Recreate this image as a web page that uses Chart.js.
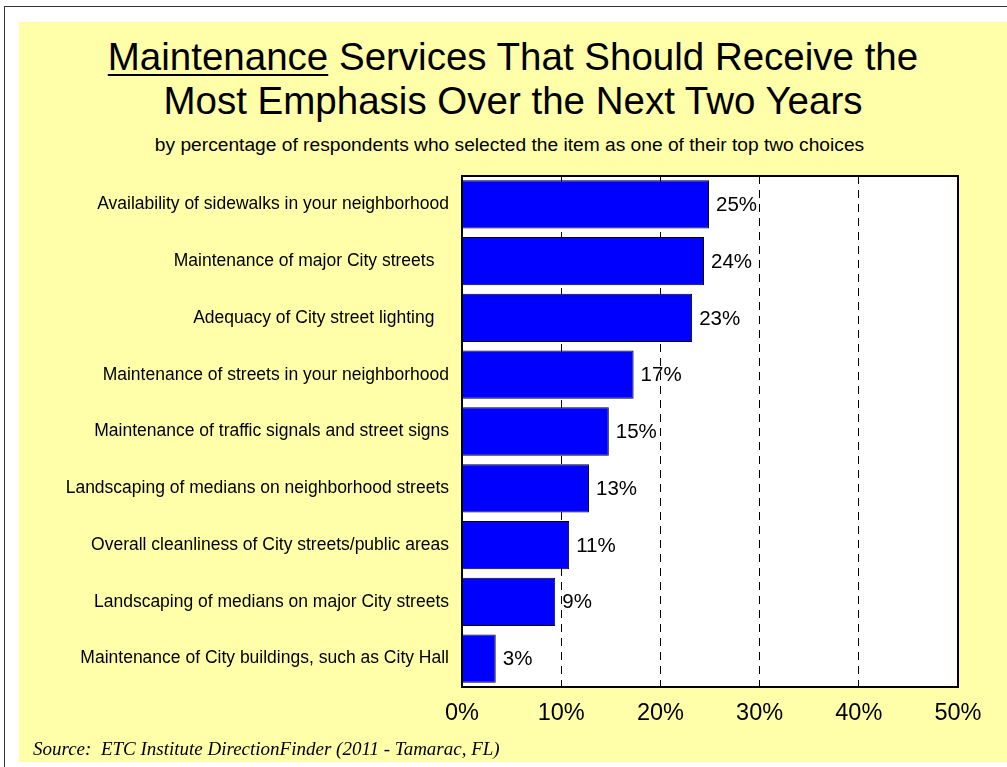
<!DOCTYPE html>
<html>
<head>
<meta charset="utf-8">
<script src="https://cdn.jsdelivr.net/npm/chart.js@4"></script>
<style>
  html,body{margin:0;padding:0;background:#fff;}
  #page{position:relative;width:1007px;height:767px;overflow:hidden;font-family:"Liberation Sans",Arial,sans-serif;}
  #frameTop{position:absolute;left:4px;top:6px;width:1003px;height:1px;background:#333;}
  #frameLeft{position:absolute;left:4px;top:6px;width:1px;height:761px;background:#333;}
  #panel{position:absolute;left:19px;top:22px;width:988px;height:740px;background:#FFFFAA;}
  #title{position:absolute;left:19px;width:988px;top:35px;text-align:center;font-size:38.5px;line-height:44px;color:#000;}
  #title u{text-decoration-thickness:2px;text-underline-offset:4px;}
  #subtitle{position:absolute;left:0;width:1019px;top:134px;text-align:center;font-size:19.2px;line-height:21px;color:#000;}
  #source{position:absolute;left:33px;top:739px;font-family:"Liberation Serif","Times New Roman",serif;font-style:italic;font-size:19px;line-height:20px;color:#000;}
  canvas{position:absolute;left:0;top:0;}
</style>
</head>
<body>
<div id="page">
  <div id="frameTop"></div>
  <div id="frameLeft"></div>
  <div id="panel"></div>
  <div id="title"><u>Maintenance</u> Services That Should Receive the<br>Most Emphasis Over the Next Two Years</div>
  <div id="subtitle">by percentage of respondents who selected the item as one of their top two choices</div>
  <canvas id="chart" width="1007" height="767"></canvas>
  <div id="source">Source:&nbsp; ETC Institute DirectionFinder (2011 - Tamarac, FL)</div>
</div>
<script>
// ---------- data ----------
const categories=[
  'Availability of sidewalks in your neighborhood',
  'Maintenance of major City streets   ',
  'Adequacy of City street lighting   ',
  'Maintenance of streets in your neighborhood',
  'Maintenance of traffic signals and street signs',
  'Landscaping of medians on neighborhood streets',
  'Overall cleanliness of City streets/public areas',
  'Landscaping of medians on major City streets',
  'Maintenance of City buildings, such as City Hall'
];
const values=[24.9,24.4,23.2,17.3,14.8,12.8,10.8,9.4,3.4];
const valueLabels=['25%','24%','23%','17%','15%','13%','11%','9%','3%'];
const xTicks=[0,10,20,30,40,50];

// ---------- plugins ----------
const plotBox={
  id:'plotBox',
  beforeDraw(chart){
    const a=chart.chartArea, ctx=chart.ctx;
    ctx.save();
    ctx.fillStyle='#fff';
    ctx.fillRect(a.left,a.top,a.right-a.left,a.bottom-a.top);
    ctx.restore();
  },
  afterDatasetsDraw(chart){
    const a=chart.chartArea, ctx=chart.ctx;
    // value labels
    ctx.save();
    ctx.font='20.5px "Liberation Sans", Arial, sans-serif';
    ctx.fillStyle='#000';
    ctx.textAlign='left';
    ctx.textBaseline='middle';
    chart.getDatasetMeta(0).data.forEach((bar,i)=>{
      ctx.fillText(valueLabels[i],bar.x+7,bar.y+1);
    });
    // frame
    ctx.strokeStyle='#000';
    ctx.lineWidth=2;
    ctx.strokeRect(a.left,a.top,a.right-a.left,a.bottom-a.top);
    ctx.restore();
  }
};

new Chart(document.getElementById('chart'),{
  type:'bar',
  data:{
    labels:categories,
    datasets:[{
      data:values,
      backgroundColor:'#0000FF',
      borderColor:'#000',
      borderWidth:1,
      categoryPercentage:1,
      barPercentage:0.85
    }]
  },
  options:{
    indexAxis:'y',
    responsive:false,
    animation:false,
    layout:{padding:{top:176,right:49,left:0,bottom:0}},
    plugins:{legend:{display:false},tooltip:{enabled:false}},
    scales:{
      x:{
        min:0,max:50,
        afterBuildTicks(scale){scale.ticks=xTicks.map(v=>({value:v}));},
        afterFit(scale){scale.height=80;},
        grid:{color:'#000',lineWidth:1,drawTicks:false},
        border:{display:false,dash:[8,6]},
        ticks:{
          padding:12,color:'#000',
          font:{family:'"Liberation Sans", Arial, sans-serif',size:23.5},
          callback:v=>v+'%'
        }
      },
      y:{
        afterFit(scale){scale.width=462;},
        grid:{display:false,drawTicks:false},
        border:{display:false},
        ticks:{
          padding:13,color:'#000',autoSkip:false,
          font:{family:'"Liberation Sans", Arial, sans-serif',size:17.5}
        }
      }
    }
  },
  plugins:[plotBox]
});
</script>
</body>
</html>
